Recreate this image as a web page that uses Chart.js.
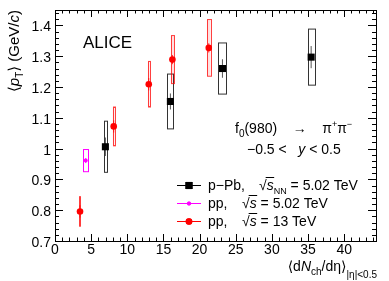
<!DOCTYPE html>
<html>
<head>
<meta charset="utf-8">
<script src="https://cdn.jsdelivr.net/npm/chart.js@4/dist/chart.umd.min.js"></script>
<style>
  html, body { margin: 0; padding: 0; background: #fff; }
  #wrap { width: 389px; height: 281px; }
</style>
</head>
<body>
<div id="wrap"><canvas id="c"></canvas></div>
<script>
// p-Pb 5.02 TeV
const ppbX = [6.97, 15.96, 23.16, 35.43];
const ppbY = [1.006, 1.153, 1.260, 1.297];
const ppbStat = [0.03, 0.026, 0.03, 0.036];
const ppbSys = [0.083, 0.089, 0.083, 0.091];
const ppbSysX = [0.2, 0.4, 0.55, 0.5];

// pp 5.02 TeV
const pp5X = [4.25];
const pp5Y = [0.961];
const pp5Stat = [0.008];
const pp5Sys = [0.036];
const pp5SysX = [0.35];

// pp 13 TeV
const pp13X = [3.46, 8.12, 12.97, 16.24, 21.27];
const pp13Y = [0.796, 1.072, 1.209, 1.289, 1.327];
const pp13Stat = [0.02, 0.02, 0.02, 0.015, 0.015];
const pp13Sys = [0.048, 0.063, 0.074, 0.078, 0.092];
const pp13SysX = [0.1, 0.12, 0.12, 0.22, 0.25];

const xTicks = [0, 5, 10, 15, 20, 25, 30, 35, 40];
const yTicks = [0.7, 0.8, 0.9, 1.0, 1.1, 1.2, 1.3, 1.4];
const yTickLabels = ["0.7", "0.8", "0.9", "1", "1.1", "1.2", "1.3", "1.4"];

const FONT = '"Liberation Sans", Arial, "DejaVu Sans", sans-serif';

function toPts(xs, ys) {
    return xs.map((x, i) => ({x: x, y: ys[i]}));
}

// draw a run of text pieces, left to right
function rich(ctx, parts, x, y, align) {
    let w = 0;
    parts.forEach(p => {
        ctx.font = (p.i ? 'italic ' : '') + (p.s || 14) + 'px ' + FONT;
        p.w = ctx.measureText(p.t).width;
        w += p.w;
    });
    if (align === 'right') x -= w;
    parts.forEach(p => {
        ctx.font = (p.i ? 'italic ' : '') + (p.s || 14) + 'px ' + FONT;
        ctx.fillText(p.t, x, y + (p.dy || 0));
        if (p.over) {
            ctx.save();
            ctx.lineWidth = 1;
            ctx.strokeStyle = '#000';
            ctx.beginPath();
            ctx.moveTo(x - 1, y - 12.5);
            ctx.lineTo(x + p.w + 0.5, y - 12.5);
            ctx.stroke();
            ctx.restore();
        }
        x += p.w;
    });
}

const boxes = {
    id: 'boxes',
    beforeDatasetsDraw(chart) {
        const {ctx, scales: {x, y}} = chart;
        const groups = [
            {xs: ppbX, ys: ppbY, st: ppbStat, sy: ppbSys, sx: ppbSysX, line: '#333', fill: null, bar: '#555'},
            {xs: pp5X, ys: pp5Y, st: pp5Stat, sy: pp5Sys, sx: pp5SysX, line: '#ff00ff', fill: null, bar: '#ff00ff'},
            {xs: pp13X, ys: pp13Y, st: pp13Stat, sy: pp13Sys, sx: pp13SysX, line: 'rgba(255,0,0,0.75)', fill: 'rgba(255,0,0,0.12)', bar: 'rgba(255,0,0,0.8)'},
        ];
        ctx.save();
        groups.forEach(g => {
            g.xs.forEach((xv, i) => {
                const l = x.getPixelForValue(xv - g.sx[i]);
                const r = x.getPixelForValue(xv + g.sx[i]);
                const t = y.getPixelForValue(g.ys[i] + g.sy[i]);
                const b = y.getPixelForValue(g.ys[i] - g.sy[i]);
                if (g.fill) {
                    ctx.fillStyle = g.fill;
                    ctx.fillRect(l, t, r - l, b - t);
                }
                ctx.strokeStyle = g.line;
                ctx.lineWidth = 1;
                ctx.strokeRect(Math.round(l) + 0.5, t, Math.max(1, Math.round(r - l)), b - t);
                const cx = x.getPixelForValue(xv);
                ctx.strokeStyle = g.bar;
                ctx.beginPath();
                ctx.moveTo(cx, y.getPixelForValue(g.ys[i] + g.st[i]));
                ctx.lineTo(cx, y.getPixelForValue(g.ys[i] - g.st[i]));
                ctx.stroke();
            });
        });
        ctx.restore();
    }
};

const frame = {
    id: 'frame',
    afterDraw(chart) {
        const {ctx, chartArea: a, scales: {x, y}} = chart;
        ctx.save();
        ctx.strokeStyle = '#000';
        ctx.lineWidth = 1;
        ctx.strokeRect(a.left + 0.5, a.top + 0.5, a.right - a.left, a.bottom - a.top);
        ctx.beginPath();
        // x ticks, bottom and top
        for (let v = 0; v <= 44; v++) {
            const px = Math.round(x.getPixelForValue(v)) + 0.5;
            const len = v % 5 === 0 ? 7 : 3.5;
            ctx.moveTo(px, a.bottom);
            ctx.lineTo(px, a.bottom - len);
            ctx.moveTo(px, a.top);
            ctx.lineTo(px, a.top + len);
        }
        // y ticks, left and right
        for (let k = 35; k <= 72; k++) {
            const v = k * 0.02;
            const py = Math.round(y.getPixelForValue(v)) + 0.5;
            const len = k % 5 === 0 ? 8 : 4;
            ctx.moveTo(a.left, py);
            ctx.lineTo(a.left + len, py);
            ctx.moveTo(a.right, py);
            ctx.lineTo(a.right - len, py);
        }
        ctx.stroke();

        ctx.fillStyle = '#000';
        ctx.font = '14px ' + FONT;
        ctx.textAlign = 'center';
        ctx.textBaseline = 'alphabetic';
        xTicks.forEach(v => ctx.fillText(String(v), x.getPixelForValue(v), 254));
        ctx.textAlign = 'right';
        yTicks.forEach((v, i) => ctx.fillText(yTickLabels[i], 51, y.getPixelForValue(v) + 6));
        ctx.textAlign = 'left';

        // axis titles
        rich(ctx, [
            {t: '\u27E8d'}, {t: 'N', i: true}, {t: 'ch', s: 10, dy: 4}, {t: '/d\u03B7\u27E9'},
            {t: '|\u03B7|<0.5', s: 10, dy: 7}
        ], 377, 271, 'right');
        ctx.save();
        ctx.translate(19, 10);
        ctx.rotate(-Math.PI / 2);
        rich(ctx, [
            {t: '\u27E8', s: 15}, {t: 'p', i: true, s: 15}, {t: 'T', s: 10, dy: 4}, {t: '\u27E9 (GeV/', s: 15},
            {t: 'c', i: true, s: 15}, {t: ')', s: 15}
        ], 0, 0, 'right');
        ctx.restore();

        // labels
        rich(ctx, [{t: 'ALICE', s: 17}], 83, 48);
        rich(ctx, [
            {t: 'f'}, {t: '0', s: 10, dy: 4}, {t: '(980)    \u2192    \u03C0'}, {t: '+', s: 9, dy: -6},
            {t: '\u03C0'}, {t: '\u2212', s: 9, dy: -6}
        ], 235, 133);
        rich(ctx, [{t: '\u22120.5 <   '}, {t: 'y', i: true}, {t: ' < 0.5'}], 247, 154);

        // legend
        const rows = [
            {yy: 185, col: '#000', style: 'rect', r: 5, lab: 'p\u2212Pb,', sx: 259,
                rest: [{t: 's', i: true, over: true}, {t: 'NN', s: 9, dy: 4}, {t: ' = 5.02 TeV'}]},
            {yy: 203, col: '#ff00ff', style: 'circle', r: 2, lab: 'pp,', sx: 242,
                rest: [{t: 's', i: true, over: true}, {t: ' = 5.02 TeV'}]},
            {yy: 221, col: '#ff0000', style: 'circle', r: 3.3, lab: 'pp,', sx: 242,
                rest: [{t: 's', i: true, over: true}, {t: ' = 13 TeV'}]},
        ];
        rows.forEach(row => {
            ctx.strokeStyle = row.col;
            ctx.beginPath();
            ctx.moveTo(177, row.yy + 0.5);
            ctx.lineTo(201, row.yy + 0.5);
            ctx.stroke();
            ctx.fillStyle = row.col;
            Chart.helpers.drawPoint(ctx, {pointStyle: row.style, radius: row.r, borderWidth: 0}, 189, row.yy + 0.5);
            ctx.fill();
            ctx.fillStyle = '#000';
            rich(ctx, [{t: row.lab}], 208, row.yy + 5);
            rich(ctx, [{t: '\u221A', s: 14}].concat(row.rest), row.sx, row.yy + 5);
        });
        ctx.restore();
    }
};

new Chart(document.getElementById('c'), {
    type: 'scatter',
    data: {
        datasets: [
            {
                label: 'p-Pb 5.02 TeV',
                data: toPts(ppbX, ppbY),
                pointStyle: 'rect',
                pointRadius: 5,
                backgroundColor: '#000',
                borderColor: '#000',
                borderWidth: 0,
            },
            {
                label: 'pp 5.02 TeV',
                data: toPts(pp5X, pp5Y),
                pointStyle: 'circle',
                pointRadius: 2,
                backgroundColor: '#ff00ff',
                borderColor: '#ff00ff',
                borderWidth: 0,
            },
            {
                label: 'pp 13 TeV',
                data: toPts(pp13X, pp13Y),
                pointStyle: 'circle',
                pointRadius: 3.3,
                backgroundColor: '#ff0000',
                borderColor: '#ff0000',
                borderWidth: 0,
            },
        ],
    },
    options: {
        responsive: true,
        maintainAspectRatio: false,
        animation: false,
        events: [],
        layout: {
            padding: {left: 55, right: 13, top: 10, bottom: 40},
        },
        scales: {
            x: {type: 'linear', min: 0, max: 44.4, display: false},
            y: {type: 'linear', min: 0.7, max: 1.45, display: false},
        },
        plugins: {
            legend: {display: false},
            tooltip: {enabled: false},
        },
    },
    plugins: [boxes, frame],
});
</script>
</body>
</html>
